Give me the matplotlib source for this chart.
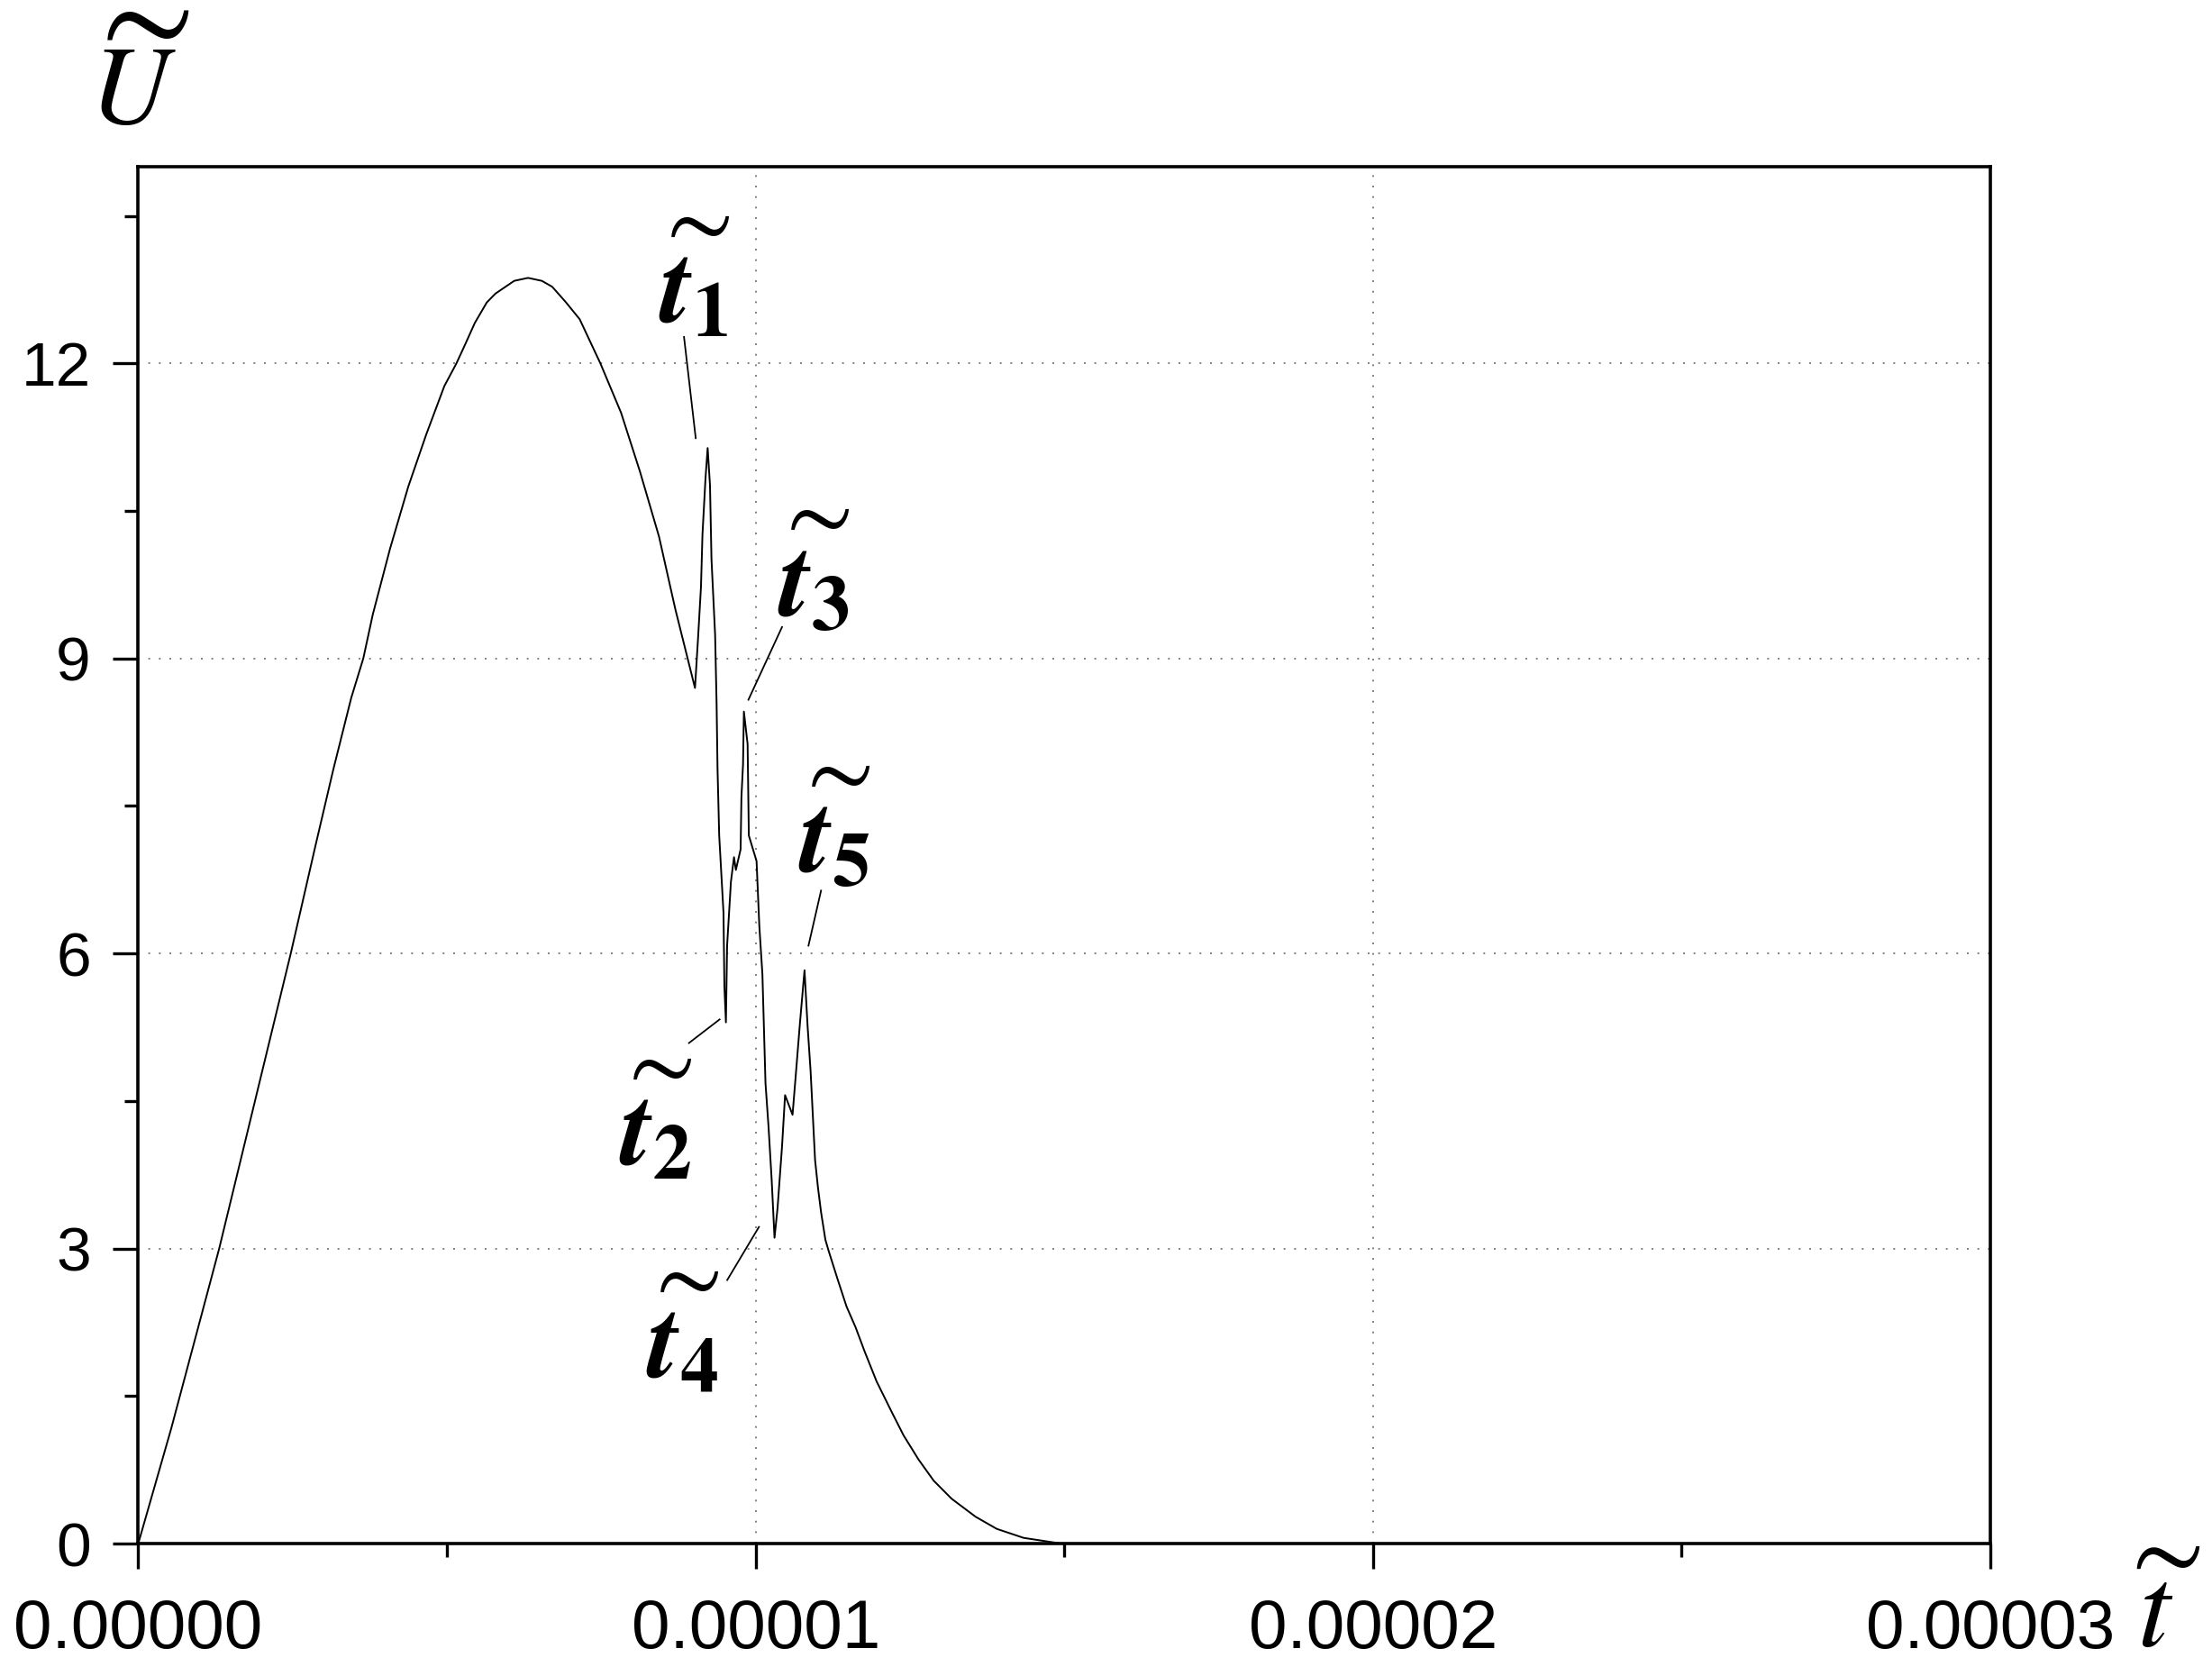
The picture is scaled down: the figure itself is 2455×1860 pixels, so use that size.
import matplotlib
matplotlib.use("Agg")
import matplotlib.pyplot as plt
import numpy as np
from matplotlib.ticker import MultipleLocator, FormatStrFormatter

plt.rcParams['font.family'] = ['Liberation Sans', 'DejaVu Sans']
plt.rcParams['mathtext.fontset'] = 'stix'

T_UNIT = 1e-5

# curve (t in units of 1e-5)
t_vals = [0.0, 0.0534, 0.1311, 0.247, 0.2868, 0.3159, 0.345, 0.3645, 0.380,
          0.408, 0.4375, 0.4666, 0.4958, 0.5153, 0.53, 0.545, 0.5645, 0.5785,
          0.609, 0.6314, 0.6537, 0.6705, 0.693, 0.715, 0.7486, 0.782,
          0.8127, 0.8435, 0.870, 0.9018,
          0.9067, 0.9115, 0.9139, 0.9188, 0.9223, 0.9261, 0.9285, 0.9344,
          0.9368, 0.9383, 0.941, 0.948, 0.9494, 0.9519,
          0.9538, 0.960, 0.965, 0.968, 0.9757, 0.977, 0.9796, 0.981,
          0.987, 0.989, 1.0015, 1.006, 1.011, 1.016, 1.021, 1.026, 1.0306,
          1.0355, 1.0427, 1.0477, 1.0598, 1.0646, 1.0719, 1.0792,
          1.0842, 1.089, 1.0963, 1.101, 1.106, 1.113,
          1.1181, 1.1327, 1.1473, 1.1619, 1.1765, 1.1959, 1.2203, 1.2397,
          1.2640, 1.2884, 1.3175, 1.3563, 1.3905, 1.4342, 1.4828, 1.495]
u_vals = [0.0, 1.17, 3.0, 6.0, 7.09, 7.87, 8.60, 9.0, 9.45,
          10.12, 10.75, 11.28, 11.77, 12.0, 12.2, 12.41, 12.62, 12.71,
          12.84, 12.87, 12.84, 12.78, 12.62, 12.45, 12.0, 11.50,
          10.90, 10.24, 9.50, 8.70,
          9.2, 9.73, 10.26, 10.83, 11.14, 10.76, 10.01, 9.24,
          8.54, 7.88, 7.2, 6.41, 5.67, 5.30,
          6.08, 6.73, 6.98, 6.85, 7.06, 7.59, 7.92, 8.46,
          8.13, 7.2, 6.94, 6.28, 5.79, 4.68, 4.23, 3.70, 3.11,
          3.41, 4.03, 4.56, 4.36, 4.73, 5.30, 5.83,
          5.26, 4.81, 3.9, 3.62, 3.37, 3.09,
          2.98, 2.69, 2.41, 2.20, 1.955, 1.65, 1.34, 1.10,
          0.854, 0.64, 0.456, 0.273, 0.15, 0.058, 0.012, 0.0]

# annotation labels: text centre and leader line (start, end)
ann_names = ['1', '2', '3', '4', '5']
ann_text_t = [0.8994, 0.8374, 1.0938, 0.8811, 1.1266]
ann_text_u = [12.71, 4.14, 9.73, 1.98, 7.12]
ann_line_t = [(0.884, 0.903), (0.892, 0.9417), (1.0428, 0.9883), (0.954, 1.0054), (1.106, 1.0856)]
ann_line_u = [(12.27, 11.24), (5.09, 5.33), (9.32, 8.58), (2.68, 3.22), (6.64, 6.08)]

fig = plt.figure(figsize=(24.55, 18.6), dpi=100)
ax = fig.add_axes([0.0625, 0.0790, 0.8373, 0.8215])

t = np.array(t_vals) * T_UNIT
ax.plot(t, u_vals, color='black', lw=1.4, zorder=3)

for name, tx, ux, lt, lu in zip(ann_names, ann_text_t, ann_text_u, ann_line_t, ann_line_u):
    ax.plot(np.array(lt) * T_UNIT, lu, color='black', lw=1.3, zorder=3)
    ax.text(tx * T_UNIT, ux, r'$\mathbfit{t}_{\mathbf{' + name + '}}$',
            fontsize=88, ha='center', va='center', zorder=4)
    # the tilde over t
    ax.annotate(r'$\sim$', xy=(tx * T_UNIT, ux), xytext=(-1.5, 55),
                textcoords='offset points', fontsize=78, ha='center', va='center')

ax.set_xlim(0, 3 * T_UNIT)
ax.set_ylim(0, 14)
ax.xaxis.set_major_locator(MultipleLocator(1 * T_UNIT))
ax.xaxis.set_minor_locator(MultipleLocator(0.5 * T_UNIT))
ax.xaxis.set_major_formatter(FormatStrFormatter('%.5f'))
ax.yaxis.set_major_locator(MultipleLocator(3))
ax.yaxis.set_minor_locator(MultipleLocator(1.5))

ax.grid(True, which='major', color='#808080', linestyle=(0, (1, 5)), lw=1.4)

for sp in ax.spines.values():
    sp.set_linewidth(2.6)
ax.tick_params(which='major', direction='out', length=20, width=2.4, pad=18)
ax.tick_params(which='minor', direction='out', length=11, width=2.4)
ax.tick_params(top=False, right=False)
ax.tick_params(axis='y', labelsize=50)
ax.tick_params(axis='x', labelsize=55, pad=24)

# axis names: letters with a tilde over them
fig.text(0.0601, 0.9436, r'$U$', fontsize=89, ha='center', va='center')
fig.text(0.0611, 0.9860, r'$\sim$', fontsize=110, ha='center', va='center')
fig.text(0.9743, 0.0355, r'$t$', fontsize=93, ha='center', va='center')
fig.text(0.9755, 0.0715, r'$\sim$', fontsize=85, ha='center', va='center')

fig.savefig('out.png', dpi=100)
